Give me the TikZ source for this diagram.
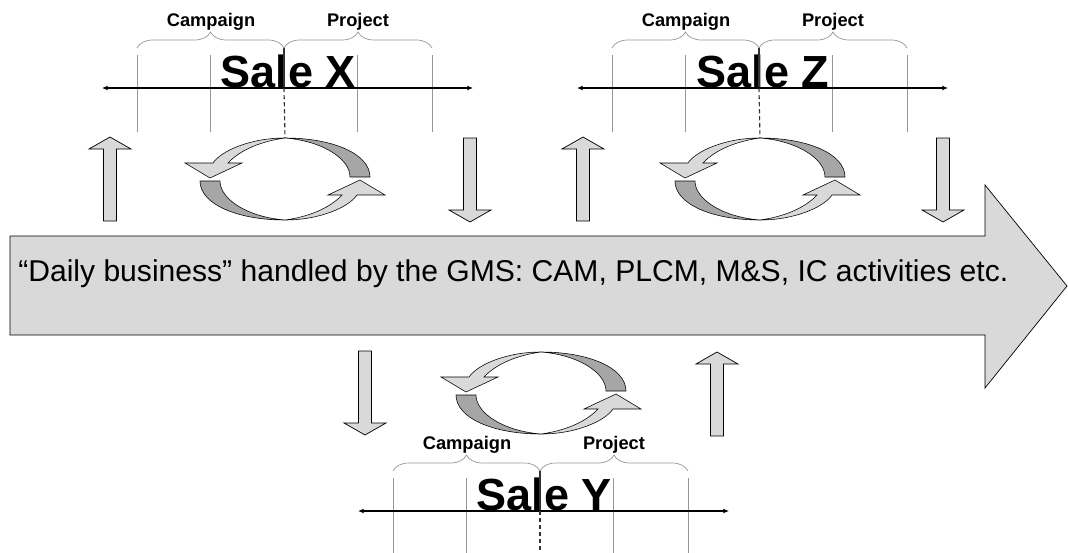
\documentclass[tikz,border=0pt]{standalone}
\usepackage{fontspec}
\setmainfont{Liberation Sans}
\usetikzlibrary{arrows.meta,decorations.pathreplacing}

\definecolor{facelight}{RGB}{217,217,217}
\definecolor{facedark}{RGB}{166,166,166}
\definecolor{tickgray}{RGB}{150,150,150}

\tikzset{
  blockarrow/.style={draw=black, fill=facelight, line width=0.5pt},
  ribbonlight/.style={draw=black, fill=facelight, line width=0.4pt},
  ribbondark/.style={draw=black, fill=facedark, line width=0.4pt},
  tickline/.style={draw=tickgray, line width=0.5pt},
  timebrace/.style={draw=tickgray, line width=0.5pt, decorate,
    decoration={brace, amplitude=0.4cm}},
  phase/.style={font=\fontsize{13}{15}\selectfont\bfseries, anchor=base},
  salename/.style={font=\fontsize{32}{36}\selectfont\bfseries, anchor=base},
  midline/.style={draw=black!80, line width=0.8pt},
  uparrow/.pic={
    \path[blockarrow] (0,0) -- (21,12) -- (6.5,12) -- (6.5,84) -- (-6.5,84)
      -- (-6.5,12) -- (-21,12) -- cycle;
  },
  timeline/.pic={
    \foreach \t in {-147,-74,73,148}
      \draw[tickline] (\t,-33) -- (\t,44);
    \draw[timebrace] (-147,-40) -- (0,-40);
    \draw[timebrace] (0,-40) -- (148,-40);
    \node[salename] (-name) at (4,-1) {Sale #1};
    \node[phase] (-camp) at (-73,-62) {Campaign};
    \node[phase] (-proj) at (74,-62) {Project};
    \draw[midline] (0,-40) -- (0,0);
    \draw[line width=0.9pt, {Latex[length=4pt,width=3.5pt]}-{Latex[length=4pt,width=3.5pt]}]
      (-182,0) -- (189,0);
    \coordinate (-mid) at (0,0);
  },
  salecycle/.pic={
    \foreach \r in {0,180}{
      \begin{scope}[rotate=\r]
        \path[ribbondark] (0,-41) .. controls (48,-41) and (85,-25) .. (85,-2)
          -- (65,-2) .. controls (65,-20) and (38,-38) .. (0,-41) -- cycle;
        \path[ribbonlight] (0,-41) .. controls (-35,-41) and (-64,-28) .. (-72,-16)
          -- (-100,-16) -- (-75,-1) -- (-43,-16) -- (-57,-16)
          .. controls (-44,-30) and (-22,-38) .. (0,-41) -- cycle;
      \end{scope}
    }
    \coordinate (-top) at (0,-41);
  }
}

\begin{document}
\begin{tikzpicture}[x=0.025cm, y=-0.025cm]
  \clip (0,0) rectangle (1068,553);

  % daily business
  \path[blockarrow] (10,236) -- (985,236) -- (985,185) -- (1067,286)
    -- (985,388) -- (985,335) -- (10,335) -- cycle;
  \node[font=\fontsize{21.4}{25}\selectfont, anchor=base west, inner sep=0pt] (daily)
    at (18,281) {“Daily business” handled by the GMS: CAM, PLCM, M\&S, IC activities etc.};

  % the three sales
  \pic (sx) at (284,88) {timeline=X};
  \pic (sz) at (759,88) {timeline=Z};
  \pic (sy) at (540,511) {timeline=Y};

  \pic (cx) at (285,179) {salecycle};
  \pic (cz) at (760,179) {salecycle};
  \pic (cy) at (541,393) {salecycle};

  \coordinate (yend) at (540,553);
  \draw[midline, dash pattern=on 3pt off 2pt] (sx-mid) -- (cx-top);
  \draw[midline, dash pattern=on 3pt off 2pt] (sz-mid) -- (cz-top);
  \draw[midline, dash pattern=on 3pt off 2pt] (sy-mid) -- (yend);

  % in and out of the daily business
  \pic at (110,137) {uparrow};
  \pic[rotate=180] at (470,222) {uparrow};
  \pic at (583,137) {uparrow};
  \pic[rotate=180] at (943,222) {uparrow};
  \pic[rotate=180] at (365,435) {uparrow};
  \pic at (717,352) {uparrow};
\end{tikzpicture}
\end{document}
